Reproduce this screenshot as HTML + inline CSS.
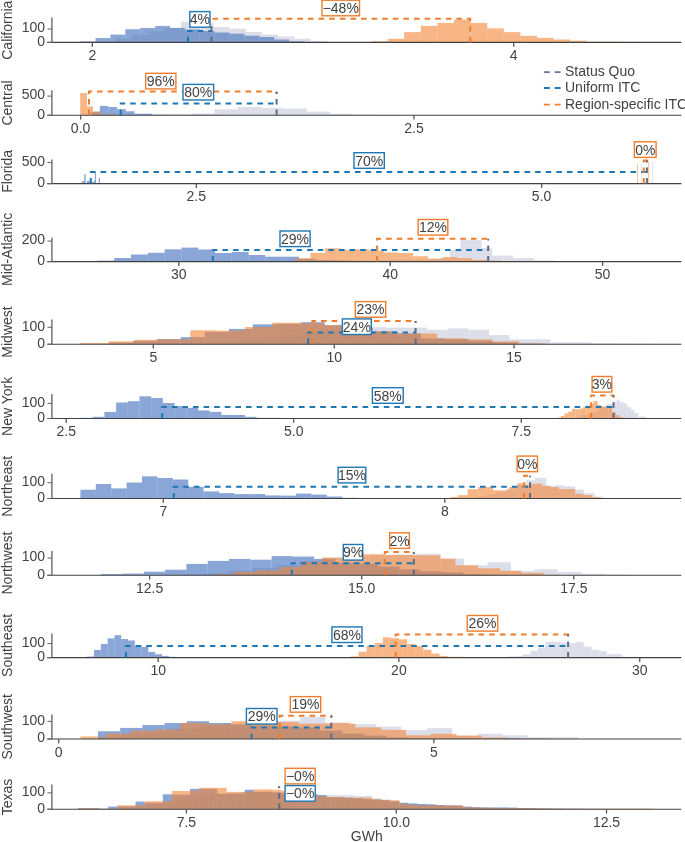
<!DOCTYPE html><html><head><meta charset="utf-8"><style>html,body{margin:0;padding:0;background:#fff;}svg{display:block;will-change:transform;}text{font-family:"Liberation Sans", sans-serif;}</style></head><body>
<svg width="685" height="842" viewBox="0 0 685 842">
<rect width="685" height="842" fill="#fff"/>
<g fill="rgb(185,192,212)" fill-opacity="0.5"><rect x="100" y="41.9" width="16.2" height="0.5"/><rect x="116.2" y="38.8" width="16.2" height="3.6"/><rect x="132.4" y="34.8" width="16.2" height="7.6"/><rect x="148.6" y="31.1" width="16.2" height="11.3"/><rect x="164.8" y="28" width="16.2" height="14.4"/><rect x="181" y="21.5" width="16.2" height="20.9"/><rect x="197.2" y="23" width="16.2" height="19.4"/><rect x="213.4" y="27" width="16.2" height="15.4"/><rect x="229.6" y="28.7" width="16.2" height="13.7"/><rect x="245.8" y="32" width="16.2" height="10.4"/><rect x="262" y="34.6" width="16.2" height="7.8"/><rect x="278.2" y="36.5" width="16.2" height="5.9"/><rect x="294.4" y="38.8" width="16.2" height="3.6"/><rect x="310.6" y="40.9" width="16.2" height="1.5"/><rect x="326.8" y="41.9" width="16.2" height="0.5"/></g>
<g fill="rgb(75,118,192)" fill-opacity="0.65"><rect x="80.6" y="41.4" width="14.9" height="1"/><rect x="95.5" y="38" width="14.9" height="4.4"/><rect x="110.4" y="34.6" width="14.9" height="7.8"/><rect x="125.3" y="29.2" width="14.9" height="13.2"/><rect x="140.2" y="28" width="14.9" height="14.4"/><rect x="155.1" y="25.9" width="14.9" height="16.5"/><rect x="170" y="27.9" width="14.9" height="14.5"/><rect x="184.9" y="29.5" width="14.9" height="12.9"/><rect x="199.8" y="31" width="14.9" height="11.4"/><rect x="214.7" y="32.5" width="14.9" height="9.9"/><rect x="229.6" y="33.7" width="14.9" height="8.7"/><rect x="244.5" y="35.7" width="14.9" height="6.7"/><rect x="259.4" y="37" width="14.9" height="5.4"/><rect x="274.3" y="39.5" width="14.9" height="2.9"/><rect x="289.2" y="41.2" width="14.9" height="1.2"/><rect x="304.1" y="41.9" width="14.9" height="0.5"/><rect x="319" y="42.1" width="14.9" height="0.3"/></g>
<g fill="rgb(243,133,55)" fill-opacity="0.6"><rect x="371" y="41.2" width="16.6" height="1.2"/><rect x="387.6" y="38.8" width="16.6" height="3.6"/><rect x="404.2" y="32.1" width="16.6" height="10.3"/><rect x="420.8" y="25.9" width="16.6" height="16.5"/><rect x="437.4" y="22.9" width="16.6" height="19.5"/><rect x="454" y="19.7" width="16.6" height="22.7"/><rect x="470.6" y="22.9" width="16.6" height="19.5"/><rect x="487.2" y="28.4" width="16.6" height="14"/><rect x="503.8" y="32.1" width="16.6" height="10.3"/><rect x="520.4" y="35.8" width="16.6" height="6.6"/><rect x="537" y="37.8" width="16.6" height="4.6"/><rect x="553.6" y="39.5" width="16.6" height="2.9"/><rect x="570.2" y="40.7" width="16.6" height="1.7"/><rect x="586.8" y="41.7" width="16.6" height="0.7"/><rect x="603.4" y="41.7" width="16.6" height="0.7"/><rect x="620" y="41.9" width="16.6" height="0.5"/></g>
<line x1="51.9" y1="17.6" x2="51.9" y2="42.4" stroke="#5f5f5f" stroke-width="1.3"/>
<line x1="47.3" y1="42.4" x2="681.3" y2="42.4" stroke="#404040" stroke-width="1.1"/>
<line x1="47.5" y1="29" x2="52" y2="29" stroke="#6a6a6a" stroke-width="1.1"/>
<text x="45" y="32.3" font-size="14" fill="#424242" text-anchor="end">100</text>
<line x1="47.5" y1="42.4" x2="52" y2="42.4" stroke="#6a6a6a" stroke-width="1.1"/>
<text x="45" y="45.7" font-size="14" fill="#424242" text-anchor="end">0</text>
<line x1="92.3" y1="42.4" x2="92.3" y2="46.7" stroke="#555" stroke-width="1.3"/>
<text x="92.3" y="59.9" font-size="14" fill="#424242" text-anchor="middle">2</text>
<line x1="513.7" y1="42.4" x2="513.7" y2="46.7" stroke="#555" stroke-width="1.3"/>
<text x="513.7" y="59.9" font-size="14" fill="#424242" text-anchor="middle">4</text>
<text transform="translate(11.5,30.2) rotate(-90)" font-size="14" fill="#424242" text-anchor="middle">California</text>
<path d="M188 42.4V30.9H211.5" fill="none" stroke="#1f77b4" stroke-width="2" stroke-dasharray="5.6 5"/>
<path d="M470.2 42.4V18.8H211.5V20.8" fill="none" stroke="#ef7d2c" stroke-width="2" stroke-dasharray="5.6 5"/>
<path d="M211.5 42.4V26" fill="none" stroke="#5f6a85" stroke-width="2" stroke-dasharray="5.6 5"/>
<rect x="189.8" y="11.6" width="20.2" height="15.6" fill="#fff" stroke="#1f77b4" stroke-width="1.4"/>
<text x="199.9" y="24.4" font-size="14" fill="#424242" text-anchor="middle">4%</text>
<rect x="322" y="0.2" width="37.5" height="15.6" fill="#fff" stroke="#ef7d2c" stroke-width="1.4"/>
<text x="340.75" y="13" font-size="14" fill="#424242" text-anchor="middle">−48%</text>
<g fill="rgb(185,192,212)" fill-opacity="0.5"><rect x="191.5" y="113.5" width="23.1" height="1.7"/><rect x="214.6" y="109.3" width="23.1" height="5.9"/><rect x="237.7" y="106.9" width="23.1" height="8.3"/><rect x="260.8" y="107.9" width="23.1" height="7.3"/><rect x="283.9" y="108.6" width="23.1" height="6.6"/><rect x="307" y="111.6" width="23.1" height="3.6"/><rect x="330.1" y="113.7" width="23.1" height="1.5"/><rect x="353.2" y="114.7" width="23.1" height="0.5"/><rect x="376.3" y="114.9" width="23.1" height="0.3"/></g>
<g fill="rgb(75,118,192)" fill-opacity="0.65"><rect x="91.1" y="111.7" width="8.7" height="3.5"/><rect x="99.8" y="105.9" width="8.7" height="9.3"/><rect x="108.5" y="107" width="8.7" height="8.2"/><rect x="117.2" y="109.2" width="8.7" height="6"/><rect x="125.9" y="111.3" width="8.7" height="3.9"/><rect x="134.6" y="113.7" width="8.7" height="1.5"/><rect x="143.3" y="113.7" width="8.7" height="1.5"/><rect x="152" y="114.6" width="8.7" height="0.6"/><rect x="160.7" y="114.6" width="8.7" height="0.6"/><rect x="169.4" y="114.7" width="8.7" height="0.5"/><rect x="178.1" y="114.7" width="8.7" height="0.5"/><rect x="186.8" y="114.8" width="8.7" height="0.4"/><rect x="195.5" y="114.8" width="8.7" height="0.4"/><rect x="204.2" y="114.9" width="8.7" height="0.3"/><rect x="212.9" y="114.9" width="8.7" height="0.3"/></g>
<g fill="rgb(243,133,55)" fill-opacity="0.6"><rect x="80.2" y="93.1" width="6.8" height="22.1"/><rect x="87" y="106.4" width="6" height="8.8"/><rect x="93" y="111.7" width="6.8" height="3.5"/><rect x="99.8" y="114.2" width="8.7" height="1"/><rect x="108.5" y="114.6" width="8.7" height="0.6"/></g>
<line x1="51.9" y1="90.2" x2="51.9" y2="115.2" stroke="#5f5f5f" stroke-width="1.3"/>
<line x1="47.3" y1="115.2" x2="681.3" y2="115.2" stroke="#404040" stroke-width="1.1"/>
<line x1="47.5" y1="96.1" x2="52" y2="96.1" stroke="#6a6a6a" stroke-width="1.1"/>
<text x="45" y="99.4" font-size="14" fill="#424242" text-anchor="end">500</text>
<line x1="47.5" y1="115.2" x2="52" y2="115.2" stroke="#6a6a6a" stroke-width="1.1"/>
<text x="45" y="118.5" font-size="14" fill="#424242" text-anchor="end">0</text>
<line x1="80.6" y1="115.2" x2="80.6" y2="119.5" stroke="#555" stroke-width="1.3"/>
<text x="80.6" y="132.7" font-size="14" fill="#424242" text-anchor="middle">0.0</text>
<line x1="414" y1="115.2" x2="414" y2="119.5" stroke="#555" stroke-width="1.3"/>
<text x="414" y="132.7" font-size="14" fill="#424242" text-anchor="middle">2.5</text>
<text transform="translate(11.5,103) rotate(-90)" font-size="14" fill="#424242" text-anchor="middle">Central</text>
<path d="M120.7 115.2V103.5H276.6" fill="none" stroke="#1f77b4" stroke-width="2" stroke-dasharray="5.6 5"/>
<path d="M89 115.2V91.4H276.6V93.4" fill="none" stroke="#ef7d2c" stroke-width="2" stroke-dasharray="5.6 5"/>
<path d="M276.6 115.2V91.4" fill="none" stroke="#5f6a85" stroke-width="2" stroke-dasharray="5.6 5"/>
<rect x="145.7" y="73.3" width="30.2" height="15.6" fill="#fff" stroke="#ef7d2c" stroke-width="1.4"/>
<text x="160.8" y="86.1" font-size="14" fill="#424242" text-anchor="middle">96%</text>
<rect x="183" y="84.4" width="30.6" height="15.6" fill="#fff" stroke="#1f77b4" stroke-width="1.4"/>
<text x="198.3" y="97.2" font-size="14" fill="#424242" text-anchor="middle">80%</text>
<g fill="rgb(185,192,212)" fill-opacity="0.5"><rect x="641" y="163.7" width="0.8" height="19.9"/><rect x="651.9" y="161.3" width="0.8" height="22.3"/></g>
<g fill="rgb(75,118,192)" fill-opacity="0.65"><rect x="80.1" y="182.7" width="2.1" height="0.9"/><rect x="82.2" y="181" width="2" height="2.6"/><rect x="84.2" y="174.1" width="1.5" height="9.5"/><rect x="87" y="180.8" width="2.8" height="2.8"/><rect x="89.8" y="181.6" width="2.1" height="2"/><rect x="91.9" y="182.2" width="2" height="1.4"/><rect x="93.9" y="180.5" width="1" height="3.1"/><rect x="94.9" y="171.8" width="1.2" height="11.8"/><rect x="98.8" y="177.9" width="1.2" height="5.7"/></g>
<g fill="rgb(243,133,55)" fill-opacity="0.6"><rect x="637" y="163.7" width="0.8" height="19.9"/><rect x="648.2" y="161.3" width="0.8" height="22.3"/></g>
<line x1="51.9" y1="159.5" x2="51.9" y2="183.6" stroke="#5f5f5f" stroke-width="1.3"/>
<line x1="47.3" y1="183.6" x2="681.3" y2="183.6" stroke="#404040" stroke-width="1.1"/>
<line x1="47.5" y1="162.5" x2="52" y2="162.5" stroke="#6a6a6a" stroke-width="1.1"/>
<text x="45" y="165.8" font-size="14" fill="#424242" text-anchor="end">500</text>
<line x1="47.5" y1="183.6" x2="52" y2="183.6" stroke="#6a6a6a" stroke-width="1.1"/>
<text x="45" y="186.9" font-size="14" fill="#424242" text-anchor="end">0</text>
<line x1="196.3" y1="183.6" x2="196.3" y2="187.9" stroke="#555" stroke-width="1.3"/>
<text x="196.3" y="201.1" font-size="14" fill="#424242" text-anchor="middle">2.5</text>
<line x1="541.6" y1="183.6" x2="541.6" y2="187.9" stroke="#555" stroke-width="1.3"/>
<text x="541.6" y="201.1" font-size="14" fill="#424242" text-anchor="middle">5.0</text>
<text transform="translate(11.5,171.4) rotate(-90)" font-size="14" fill="#424242" text-anchor="middle">Florida</text>
<path d="M90.8 183.6V172.1H646.9" fill="none" stroke="#1f77b4" stroke-width="2" stroke-dasharray="5.6 5"/>
<path d="M643.8 183.6V160.5H646.9V162.5" fill="none" stroke="#ef7d2c" stroke-width="2" stroke-dasharray="5.6 5"/>
<path d="M646.9 183.6V160.5" fill="none" stroke="#5f6a85" stroke-width="2" stroke-dasharray="5.6 5"/>
<rect x="354" y="152.7" width="30.3" height="15.6" fill="#fff" stroke="#1f77b4" stroke-width="1.4"/>
<text x="369.15" y="165.5" font-size="14" fill="#424242" text-anchor="middle">70%</text>
<rect x="634.4" y="141.8" width="21.7" height="15.6" fill="#fff" stroke="#ef7d2c" stroke-width="1.4"/>
<text x="645.25" y="154.6" font-size="14" fill="#424242" text-anchor="middle">0%</text>
<g fill="rgb(185,192,212)" fill-opacity="0.5"><rect x="366" y="260.6" width="10.5" height="1"/><rect x="376.5" y="260.1" width="10.5" height="1.5"/><rect x="387" y="259.6" width="10.5" height="2"/><rect x="397.5" y="259.6" width="10.5" height="2"/><rect x="408" y="259.6" width="10.5" height="2"/><rect x="418.5" y="259.6" width="10.5" height="2"/><rect x="429" y="258.7" width="10.5" height="2.9"/><rect x="439.5" y="258.2" width="10.5" height="3.4"/><rect x="450" y="250" width="10.5" height="11.6"/><rect x="460.5" y="240.1" width="10.5" height="21.5"/><rect x="471" y="240.1" width="10.5" height="21.5"/><rect x="481.5" y="248.1" width="10.5" height="13.5"/><rect x="492" y="255.5" width="10.5" height="6.1"/><rect x="502.5" y="255.5" width="10.5" height="6.1"/><rect x="513" y="258" width="10.5" height="3.6"/><rect x="523.5" y="258" width="10.5" height="3.6"/><rect x="534" y="260.4" width="10.5" height="1.2"/><rect x="544.5" y="260.4" width="10.5" height="1.2"/><rect x="555" y="261.1" width="10.5" height="0.5"/><rect x="565.5" y="261.1" width="10.5" height="0.5"/><rect x="576" y="261.1" width="10.5" height="0.5"/><rect x="586.5" y="261.3" width="10.5" height="0.3"/></g>
<g fill="rgb(75,118,192)" fill-opacity="0.65"><rect x="97.4" y="260.6" width="16.8" height="1"/><rect x="114.2" y="258" width="16.8" height="3.6"/><rect x="131" y="254.5" width="16.8" height="7.1"/><rect x="147.8" y="252.8" width="16.8" height="8.8"/><rect x="164.6" y="249.3" width="16.8" height="12.3"/><rect x="181.4" y="247.6" width="16.8" height="14"/><rect x="198.2" y="249.5" width="16.8" height="12.1"/><rect x="215" y="253" width="16.8" height="8.6"/><rect x="231.8" y="252" width="16.8" height="9.6"/><rect x="248.6" y="255" width="16.8" height="6.6"/><rect x="265.4" y="256.7" width="16.8" height="4.9"/><rect x="282.2" y="256.7" width="16.8" height="4.9"/><rect x="299" y="258.7" width="16.8" height="2.9"/><rect x="315.8" y="260.1" width="16.8" height="1.5"/><rect x="332.6" y="260.4" width="16.8" height="1.2"/><rect x="349.4" y="260.8" width="16.8" height="0.8"/><rect x="366.2" y="261.2" width="16.8" height="0.4"/></g>
<g fill="rgb(243,133,55)" fill-opacity="0.6"><rect x="281" y="261.1" width="14.7" height="0.5"/><rect x="295.7" y="258.2" width="14.7" height="3.4"/><rect x="310.4" y="253" width="14.7" height="8.6"/><rect x="325.1" y="248.3" width="14.7" height="13.3"/><rect x="339.8" y="250" width="14.7" height="11.6"/><rect x="354.5" y="249.3" width="14.7" height="12.3"/><rect x="369.2" y="250.8" width="14.7" height="10.8"/><rect x="383.9" y="252.5" width="14.7" height="9.1"/><rect x="398.6" y="253" width="14.7" height="8.6"/><rect x="413.3" y="256.2" width="14.7" height="5.4"/><rect x="428" y="258.7" width="14.7" height="2.9"/><rect x="442.7" y="257" width="14.7" height="4.6"/><rect x="457.4" y="258.2" width="14.7" height="3.4"/><rect x="472.1" y="259.9" width="14.7" height="1.7"/><rect x="486.8" y="260.6" width="14.7" height="1"/><rect x="501.5" y="261.1" width="14.7" height="0.5"/></g>
<line x1="51.9" y1="237.7" x2="51.9" y2="261.6" stroke="#5f5f5f" stroke-width="1.3"/>
<line x1="47.3" y1="261.6" x2="681.3" y2="261.6" stroke="#404040" stroke-width="1.1"/>
<line x1="47.5" y1="241.1" x2="52" y2="241.1" stroke="#6a6a6a" stroke-width="1.1"/>
<text x="45" y="244.4" font-size="14" fill="#424242" text-anchor="end">200</text>
<line x1="47.5" y1="261.6" x2="52" y2="261.6" stroke="#6a6a6a" stroke-width="1.1"/>
<text x="45" y="264.9" font-size="14" fill="#424242" text-anchor="end">0</text>
<line x1="178.8" y1="261.6" x2="178.8" y2="265.9" stroke="#555" stroke-width="1.3"/>
<text x="178.8" y="279.1" font-size="14" fill="#424242" text-anchor="middle">30</text>
<line x1="390.2" y1="261.6" x2="390.2" y2="265.9" stroke="#555" stroke-width="1.3"/>
<text x="390.2" y="279.1" font-size="14" fill="#424242" text-anchor="middle">40</text>
<line x1="602.6" y1="261.6" x2="602.6" y2="265.9" stroke="#555" stroke-width="1.3"/>
<text x="602.6" y="279.1" font-size="14" fill="#424242" text-anchor="middle">50</text>
<text transform="translate(11.5,249.4) rotate(-90)" font-size="14" fill="#424242" text-anchor="middle">Mid-Atlantic</text>
<path d="M212.8 261.6V250H488.2" fill="none" stroke="#1f77b4" stroke-width="2" stroke-dasharray="5.6 5"/>
<path d="M377.1 261.6V238.8H488.2V240.8" fill="none" stroke="#ef7d2c" stroke-width="2" stroke-dasharray="5.6 5"/>
<path d="M488.2 261.6V238.8" fill="none" stroke="#5f6a85" stroke-width="2" stroke-dasharray="5.6 5"/>
<rect x="280" y="231" width="30.1" height="15.6" fill="#fff" stroke="#1f77b4" stroke-width="1.4"/>
<text x="295.05" y="243.8" font-size="14" fill="#424242" text-anchor="middle">29%</text>
<rect x="418.2" y="219.5" width="29.6" height="15.6" fill="#fff" stroke="#ef7d2c" stroke-width="1.4"/>
<text x="433" y="232.3" font-size="14" fill="#424242" text-anchor="middle">12%</text>
<g fill="rgb(185,192,212)" fill-opacity="0.5"><rect x="202" y="343.2" width="20.5" height="1"/><rect x="222.5" y="342.2" width="20.5" height="2"/><rect x="243" y="339.8" width="20.5" height="4.4"/><rect x="263.5" y="337.8" width="20.5" height="6.4"/><rect x="284" y="334.8" width="20.5" height="9.4"/><rect x="304.5" y="331.8" width="20.5" height="12.4"/><rect x="325" y="329.8" width="20.5" height="14.4"/><rect x="345.5" y="328.8" width="20.5" height="15.4"/><rect x="366" y="327.2" width="20.5" height="17"/><rect x="386.5" y="327.6" width="20.5" height="16.6"/><rect x="407" y="327.6" width="20.5" height="16.6"/><rect x="427.5" y="329.8" width="20.5" height="14.4"/><rect x="448" y="328.4" width="20.5" height="15.8"/><rect x="468.5" y="329.7" width="20.5" height="14.5"/><rect x="489" y="335.1" width="20.5" height="9.1"/><rect x="509.5" y="339.3" width="20.5" height="4.9"/><rect x="530" y="339.3" width="20.5" height="4.9"/><rect x="550.5" y="342.5" width="20.5" height="1.7"/><rect x="571" y="342.5" width="20.5" height="1.7"/><rect x="591.5" y="343.4" width="20.5" height="0.8"/><rect x="612" y="343.6" width="20.5" height="0.6"/><rect x="632.5" y="343.7" width="20.5" height="0.5"/><rect x="653" y="343.8" width="20.5" height="0.4"/><rect x="673.5" y="343.9" width="20.5" height="0.3"/></g>
<g fill="rgb(75,118,192)" fill-opacity="0.65"><rect x="108.8" y="342.7" width="24" height="1.5"/><rect x="132.8" y="340.8" width="24" height="3.4"/><rect x="156.8" y="339.1" width="24" height="5.1"/><rect x="180.8" y="337.1" width="24" height="7.1"/><rect x="204.8" y="331.9" width="24" height="12.3"/><rect x="228.8" y="328.9" width="24" height="15.3"/><rect x="252.8" y="324.4" width="24" height="19.8"/><rect x="276.8" y="323.8" width="24" height="20.4"/><rect x="300.8" y="322.2" width="24" height="22"/><rect x="324.8" y="325.2" width="24" height="19"/><rect x="348.8" y="327.8" width="24" height="16.4"/><rect x="372.8" y="331.4" width="24" height="12.8"/><rect x="396.8" y="333.5" width="24" height="10.7"/><rect x="420.8" y="338.5" width="24" height="5.7"/><rect x="444.8" y="339.3" width="24" height="4.9"/><rect x="468.8" y="340.8" width="24" height="3.4"/><rect x="492.8" y="342.7" width="24" height="1.5"/><rect x="516.8" y="343.7" width="24" height="0.5"/></g>
<g fill="rgb(243,133,55)" fill-opacity="0.6"><rect x="80" y="343" width="28.5" height="1.2"/><rect x="108.5" y="341.3" width="26" height="2.9"/><rect x="134.5" y="339.8" width="22.3" height="4.4"/><rect x="156.8" y="339.3" width="33.5" height="4.9"/><rect x="190.3" y="330.2" width="24.7" height="14"/><rect x="215" y="330.6" width="30" height="13.6"/><rect x="245" y="327" width="27.2" height="17.2"/><rect x="272.2" y="322.7" width="28.6" height="21.5"/><rect x="300.8" y="323.2" width="23.5" height="21"/><rect x="324.3" y="325.2" width="17.4" height="19"/><rect x="341.7" y="328.8" width="24.3" height="15.4"/><rect x="366" y="331.4" width="25.6" height="12.8"/><rect x="391.6" y="333.5" width="27" height="10.7"/><rect x="418.6" y="333.5" width="18.6" height="10.7"/><rect x="437.2" y="338.3" width="28.6" height="5.9"/><rect x="465.8" y="339.3" width="26" height="4.9"/><rect x="491.8" y="341.3" width="27.3" height="2.9"/><rect x="519.1" y="343.5" width="27.3" height="0.7"/></g>
<line x1="51.9" y1="319.6" x2="51.9" y2="344.2" stroke="#5f5f5f" stroke-width="1.3"/>
<line x1="47.3" y1="344.2" x2="681.3" y2="344.2" stroke="#404040" stroke-width="1.1"/>
<line x1="47.5" y1="327.3" x2="52" y2="327.3" stroke="#6a6a6a" stroke-width="1.1"/>
<text x="45" y="330.6" font-size="14" fill="#424242" text-anchor="end">100</text>
<line x1="47.5" y1="344.2" x2="52" y2="344.2" stroke="#6a6a6a" stroke-width="1.1"/>
<text x="45" y="347.5" font-size="14" fill="#424242" text-anchor="end">0</text>
<line x1="153.3" y1="344.2" x2="153.3" y2="348.5" stroke="#555" stroke-width="1.3"/>
<text x="153.3" y="361.7" font-size="14" fill="#424242" text-anchor="middle">5</text>
<line x1="334.3" y1="344.2" x2="334.3" y2="348.5" stroke="#555" stroke-width="1.3"/>
<text x="334.3" y="361.7" font-size="14" fill="#424242" text-anchor="middle">10</text>
<line x1="514" y1="344.2" x2="514" y2="348.5" stroke="#555" stroke-width="1.3"/>
<text x="514" y="361.7" font-size="14" fill="#424242" text-anchor="middle">15</text>
<text transform="translate(11.5,332) rotate(-90)" font-size="14" fill="#424242" text-anchor="middle">Midwest</text>
<path d="M308.2 344.2V332.5H415.6" fill="none" stroke="#1f77b4" stroke-width="2" stroke-dasharray="5.6 5"/>
<path d="M312.4 344.2V321H415.6V323" fill="none" stroke="#ef7d2c" stroke-width="2" stroke-dasharray="5.6 5"/>
<path d="M415.6 344.2V321" fill="none" stroke="#5f6a85" stroke-width="2" stroke-dasharray="5.6 5"/>
<rect x="355.3" y="301.6" width="30.4" height="15.6" fill="#fff" stroke="#ef7d2c" stroke-width="1.4"/>
<text x="370.5" y="314.4" font-size="14" fill="#424242" text-anchor="middle">23%</text>
<rect x="342.4" y="318.9" width="28.9" height="15.6" fill="#fff" stroke="#1f77b4" stroke-width="1.4"/>
<text x="356.85" y="331.7" font-size="14" fill="#424242" text-anchor="middle">24%</text>
<g fill="rgb(185,192,212)" fill-opacity="0.5"><rect x="576.3" y="417" width="3.65" height="1.5"/><rect x="579.95" y="415.2" width="3.65" height="3.3"/><rect x="583.6" y="415.2" width="3.65" height="3.3"/><rect x="587.25" y="414.1" width="3.65" height="4.4"/><rect x="590.9" y="412.6" width="3.65" height="5.9"/><rect x="594.55" y="411.1" width="3.65" height="7.4"/><rect x="598.2" y="409.1" width="3.65" height="9.4"/><rect x="601.85" y="406.6" width="3.65" height="11.9"/><rect x="605.5" y="404.2" width="3.65" height="14.3"/><rect x="609.15" y="404.2" width="3.65" height="14.3"/><rect x="612.8" y="402.1" width="3.65" height="16.4"/><rect x="616.45" y="399.6" width="3.65" height="18.9"/><rect x="620.1" y="402.1" width="3.65" height="16.4"/><rect x="623.75" y="403.5" width="3.65" height="15"/><rect x="627.4" y="407.2" width="3.65" height="11.3"/><rect x="631.05" y="410.1" width="3.65" height="8.4"/><rect x="634.7" y="413" width="3.65" height="5.5"/><rect x="638.35" y="416.6" width="3.65" height="1.9"/><rect x="642" y="416.6" width="3.65" height="1.9"/><rect x="645.65" y="418" width="3.65" height="0.5"/></g>
<g fill="rgb(75,118,192)" fill-opacity="0.65"><rect x="81" y="417.8" width="11.7" height="0.7"/><rect x="92.7" y="416.8" width="11.7" height="1.7"/><rect x="104.4" y="411.9" width="11.7" height="6.6"/><rect x="116.1" y="402.5" width="11.7" height="16"/><rect x="127.8" y="401.2" width="11.7" height="17.3"/><rect x="139.5" y="396.3" width="11.7" height="22.2"/><rect x="151.2" y="398" width="11.7" height="20.5"/><rect x="162.9" y="403" width="11.7" height="15.5"/><rect x="174.6" y="406.2" width="11.7" height="12.3"/><rect x="186.3" y="407.9" width="11.7" height="10.6"/><rect x="198" y="410.4" width="11.7" height="8.1"/><rect x="209.7" y="411.9" width="11.7" height="6.6"/><rect x="221.4" y="414.9" width="11.7" height="3.6"/><rect x="233.1" y="414.9" width="11.7" height="3.6"/><rect x="244.8" y="416.8" width="11.7" height="1.7"/><rect x="256.5" y="417.8" width="11.7" height="0.7"/><rect x="268.2" y="417.8" width="11.7" height="0.7"/><rect x="279.9" y="418" width="11.7" height="0.5"/><rect x="291.6" y="418" width="11.7" height="0.5"/><rect x="303.3" y="418.2" width="11.7" height="0.3"/><rect x="315" y="418.2" width="11.7" height="0.3"/></g>
<g fill="rgb(243,133,55)" fill-opacity="0.6"><rect x="553.7" y="418" width="3.65" height="0.5"/><rect x="557.35" y="417.5" width="3.65" height="1"/><rect x="561" y="415.9" width="3.65" height="2.6"/><rect x="564.65" y="413.4" width="3.65" height="5.1"/><rect x="568.3" y="411.5" width="3.65" height="7"/><rect x="571.95" y="408.9" width="3.65" height="9.6"/><rect x="575.6" y="409.3" width="3.65" height="9.2"/><rect x="579.25" y="408.6" width="3.65" height="9.9"/><rect x="582.9" y="407.2" width="3.65" height="11.3"/><rect x="586.55" y="405.7" width="3.65" height="12.8"/><rect x="590.2" y="403.5" width="3.65" height="15"/><rect x="593.85" y="401" width="3.65" height="17.5"/><rect x="597.5" y="405" width="3.65" height="13.5"/><rect x="601.15" y="406.4" width="3.65" height="12.1"/><rect x="604.8" y="407.2" width="3.65" height="11.3"/><rect x="608.45" y="407.9" width="3.65" height="10.6"/><rect x="612.1" y="412.1" width="3.65" height="6.4"/><rect x="615.75" y="415.2" width="3.65" height="3.3"/><rect x="619.4" y="417" width="3.65" height="1.5"/><rect x="623.05" y="417.8" width="3.65" height="0.7"/><rect x="626.7" y="418.2" width="3.65" height="0.3"/></g>
<line x1="51.9" y1="393.9" x2="51.9" y2="418.5" stroke="#5f5f5f" stroke-width="1.3"/>
<line x1="47.3" y1="418.5" x2="681.3" y2="418.5" stroke="#404040" stroke-width="1.1"/>
<line x1="47.5" y1="403.4" x2="52" y2="403.4" stroke="#6a6a6a" stroke-width="1.1"/>
<text x="45" y="406.7" font-size="14" fill="#424242" text-anchor="end">100</text>
<line x1="47.5" y1="418.5" x2="52" y2="418.5" stroke="#6a6a6a" stroke-width="1.1"/>
<text x="45" y="421.8" font-size="14" fill="#424242" text-anchor="end">0</text>
<line x1="66.2" y1="418.5" x2="66.2" y2="422.8" stroke="#555" stroke-width="1.3"/>
<text x="66.2" y="436" font-size="14" fill="#424242" text-anchor="middle">2.5</text>
<line x1="293.7" y1="418.5" x2="293.7" y2="422.8" stroke="#555" stroke-width="1.3"/>
<text x="293.7" y="436" font-size="14" fill="#424242" text-anchor="middle">5.0</text>
<line x1="521.3" y1="418.5" x2="521.3" y2="422.8" stroke="#555" stroke-width="1.3"/>
<text x="521.3" y="436" font-size="14" fill="#424242" text-anchor="middle">7.5</text>
<text transform="translate(11.5,406.3) rotate(-90)" font-size="14" fill="#424242" text-anchor="middle">New York</text>
<path d="M162.2 418.5V406.9H613.5" fill="none" stroke="#1f77b4" stroke-width="2" stroke-dasharray="5.6 5"/>
<path d="M591.2 418.5V395.5H613.5V397.5" fill="none" stroke="#ef7d2c" stroke-width="2" stroke-dasharray="5.6 5"/>
<path d="M613.5 418.5V395.5" fill="none" stroke="#5f6a85" stroke-width="2" stroke-dasharray="5.6 5"/>
<rect x="372.4" y="387.7" width="30.8" height="15.6" fill="#fff" stroke="#1f77b4" stroke-width="1.4"/>
<text x="387.8" y="400.5" font-size="14" fill="#424242" text-anchor="middle">58%</text>
<rect x="592.1" y="376.5" width="19.7" height="15.6" fill="#fff" stroke="#ef7d2c" stroke-width="1.4"/>
<text x="601.95" y="389.3" font-size="14" fill="#424242" text-anchor="middle">3%</text>
<g fill="rgb(185,192,212)" fill-opacity="0.5"><rect x="466" y="497.5" width="10" height="1"/><rect x="476" y="496.5" width="10" height="2"/><rect x="486" y="494.1" width="10" height="4.4"/><rect x="496" y="492.1" width="10" height="6.4"/><rect x="506" y="489.1" width="10" height="9.4"/><rect x="516" y="485.1" width="10.3" height="13.4"/><rect x="526.3" y="480.2" width="8.7" height="18.3"/><rect x="535" y="478" width="11.4" height="20.5"/><rect x="546.4" y="485.8" width="9.6" height="12.7"/><rect x="556" y="485.3" width="9" height="13.2"/><rect x="565" y="486.4" width="10.3" height="12.1"/><rect x="575.3" y="489.7" width="8.7" height="8.8"/><rect x="584" y="493.2" width="10.6" height="5.3"/><rect x="594.6" y="496.7" width="8.7" height="1.8"/><rect x="603.3" y="498" width="5.7" height="0.5"/></g>
<g fill="rgb(75,118,192)" fill-opacity="0.65"><rect x="80.4" y="489.7" width="15.4" height="8.8"/><rect x="95.8" y="484" width="15.4" height="14.5"/><rect x="111.2" y="488.4" width="15.4" height="10.1"/><rect x="126.6" y="482.5" width="15.4" height="16"/><rect x="142" y="476.3" width="15.4" height="22.2"/><rect x="157.4" y="478" width="15.4" height="20.5"/><rect x="172.8" y="479.5" width="15.4" height="19"/><rect x="188.2" y="486.9" width="15.4" height="11.6"/><rect x="203.6" y="491.4" width="15.4" height="7.1"/><rect x="219" y="493.1" width="15.4" height="5.4"/><rect x="234.4" y="494.1" width="15.4" height="4.4"/><rect x="249.8" y="494.1" width="15.4" height="4.4"/><rect x="265.2" y="495.4" width="15.4" height="3.1"/><rect x="280.6" y="495.6" width="15.4" height="2.9"/><rect x="296" y="493.6" width="15.4" height="4.9"/><rect x="311.4" y="494.6" width="15.4" height="3.9"/><rect x="326.8" y="496.5" width="15.4" height="2"/><rect x="342.2" y="497.8" width="15.4" height="0.7"/><rect x="357.6" y="498" width="15.4" height="0.5"/><rect x="373" y="498" width="15.4" height="0.5"/></g>
<g fill="rgb(243,133,55)" fill-opacity="0.6"><rect x="450.7" y="497" width="7.3" height="1.5"/><rect x="458" y="495.2" width="9.6" height="3.3"/><rect x="467.6" y="489.3" width="10.8" height="9.2"/><rect x="478.4" y="487" width="14.6" height="11.5"/><rect x="493" y="490.3" width="15.8" height="8.2"/><rect x="508.8" y="487.1" width="8.7" height="11.4"/><rect x="517.5" y="483.2" width="7.9" height="15.3"/><rect x="525.4" y="485" width="7" height="13.5"/><rect x="532.4" y="483.7" width="9.6" height="14.8"/><rect x="542" y="485.8" width="8" height="12.7"/><rect x="550" y="487.1" width="8.7" height="11.4"/><rect x="558.7" y="489" width="16.6" height="9.5"/><rect x="575.3" y="493.7" width="7.9" height="4.8"/><rect x="583.2" y="495.1" width="8.8" height="3.4"/><rect x="592" y="497.1" width="8" height="1.4"/><rect x="600" y="498" width="5" height="0.5"/></g>
<line x1="51.9" y1="473.7" x2="51.9" y2="498.5" stroke="#5f5f5f" stroke-width="1.3"/>
<line x1="47.3" y1="498.5" x2="681.3" y2="498.5" stroke="#404040" stroke-width="1.1"/>
<line x1="47.5" y1="482.7" x2="52" y2="482.7" stroke="#6a6a6a" stroke-width="1.1"/>
<text x="45" y="486" font-size="14" fill="#424242" text-anchor="end">100</text>
<line x1="47.5" y1="498.5" x2="52" y2="498.5" stroke="#6a6a6a" stroke-width="1.1"/>
<text x="45" y="501.8" font-size="14" fill="#424242" text-anchor="end">0</text>
<line x1="163.3" y1="498.5" x2="163.3" y2="502.8" stroke="#555" stroke-width="1.3"/>
<text x="163.3" y="516" font-size="14" fill="#424242" text-anchor="middle">7</text>
<line x1="444.8" y1="498.5" x2="444.8" y2="502.8" stroke="#555" stroke-width="1.3"/>
<text x="444.8" y="516" font-size="14" fill="#424242" text-anchor="middle">8</text>
<text transform="translate(11.5,486.3) rotate(-90)" font-size="14" fill="#424242" text-anchor="middle">Northeast</text>
<path d="M173.7 498.5V486.8H530.1" fill="none" stroke="#1f77b4" stroke-width="2" stroke-dasharray="5.6 5"/>
<path d="M524.2 498.5V475.7H530.1V477.7" fill="none" stroke="#ef7d2c" stroke-width="2" stroke-dasharray="5.6 5"/>
<path d="M530.1 498.5V475.7" fill="none" stroke="#5f6a85" stroke-width="2" stroke-dasharray="5.6 5"/>
<rect x="338.1" y="467.3" width="27.7" height="15.6" fill="#fff" stroke="#1f77b4" stroke-width="1.4"/>
<text x="351.95" y="480.1" font-size="14" fill="#424242" text-anchor="middle">15%</text>
<rect x="517.1" y="456.1" width="20.4" height="15.6" fill="#fff" stroke="#ef7d2c" stroke-width="1.4"/>
<text x="527.3" y="468.9" font-size="14" fill="#424242" text-anchor="middle">0%</text>
<g fill="rgb(185,192,212)" fill-opacity="0.5"><rect x="182" y="574.3" width="23.5" height="1"/><rect x="205.5" y="573.3" width="23.5" height="2"/><rect x="229" y="570.9" width="23.5" height="4.4"/><rect x="252.5" y="567.9" width="23.5" height="7.4"/><rect x="276" y="564.9" width="23.5" height="10.4"/><rect x="299.5" y="560.9" width="23.5" height="14.4"/><rect x="323" y="557.9" width="23.5" height="17.4"/><rect x="346.5" y="555.9" width="23.5" height="19.4"/><rect x="370" y="554.9" width="23.5" height="20.4"/><rect x="393.5" y="554.4" width="23.5" height="20.9"/><rect x="417" y="553.9" width="23.5" height="21.4"/><rect x="440.5" y="558.7" width="23.5" height="16.6"/><rect x="464" y="565.3" width="23.5" height="10"/><rect x="487.5" y="562.3" width="23.5" height="13"/><rect x="511" y="570.9" width="23.5" height="4.4"/><rect x="534.5" y="569.2" width="23.5" height="6.1"/><rect x="558" y="571.9" width="23.5" height="3.4"/><rect x="581.5" y="573.8" width="23.5" height="1.5"/><rect x="605" y="574.8" width="23.5" height="0.5"/></g>
<g fill="rgb(75,118,192)" fill-opacity="0.65"><rect x="101.2" y="574.1" width="21.3" height="1.2"/><rect x="122.5" y="573.6" width="21.3" height="1.7"/><rect x="143.8" y="571.7" width="21.3" height="3.6"/><rect x="165.1" y="569.7" width="21.3" height="5.6"/><rect x="186.4" y="563.9" width="21.3" height="11.4"/><rect x="207.7" y="560.9" width="21.3" height="14.4"/><rect x="229" y="558.9" width="21.3" height="16.4"/><rect x="250.3" y="559.7" width="21.3" height="15.6"/><rect x="271.6" y="556.1" width="21.3" height="19.2"/><rect x="292.9" y="556.6" width="21.3" height="18.7"/><rect x="314.2" y="558.9" width="21.3" height="16.4"/><rect x="335.5" y="562.9" width="21.3" height="12.4"/><rect x="356.8" y="563.9" width="21.3" height="11.4"/><rect x="378.1" y="566.7" width="21.3" height="8.6"/><rect x="399.4" y="569.4" width="21.3" height="5.9"/><rect x="420.7" y="571.4" width="21.3" height="3.9"/><rect x="442" y="572.4" width="21.3" height="2.9"/><rect x="463.3" y="574.3" width="21.3" height="1"/><rect x="484.6" y="574.8" width="21.3" height="0.5"/></g>
<g fill="rgb(243,133,55)" fill-opacity="0.6"><rect x="212.8" y="574.3" width="21.2" height="1"/><rect x="234" y="571.9" width="21.5" height="3.4"/><rect x="255.5" y="570.4" width="24.3" height="4.9"/><rect x="279.8" y="567" width="21.1" height="8.3"/><rect x="300.9" y="561.8" width="21.1" height="13.5"/><rect x="322" y="557.5" width="22.3" height="17.8"/><rect x="344.3" y="553.9" width="21.1" height="21.4"/><rect x="365.4" y="554.3" width="21.1" height="21"/><rect x="386.5" y="555" width="27.3" height="20.3"/><rect x="413.8" y="555.3" width="26.6" height="20"/><rect x="440.4" y="558.7" width="15" height="16.6"/><rect x="455.4" y="565.3" width="22.5" height="10"/><rect x="477.9" y="568.3" width="22.4" height="7"/><rect x="500.3" y="570.7" width="21" height="4.6"/><rect x="521.3" y="572.8" width="22.4" height="2.5"/><rect x="543.7" y="574.8" width="16.3" height="0.5"/></g>
<line x1="51.9" y1="550.9" x2="51.9" y2="575.3" stroke="#5f5f5f" stroke-width="1.3"/>
<line x1="47.3" y1="575.3" x2="681.3" y2="575.3" stroke="#404040" stroke-width="1.1"/>
<line x1="47.5" y1="558" x2="52" y2="558" stroke="#6a6a6a" stroke-width="1.1"/>
<text x="45" y="561.3" font-size="14" fill="#424242" text-anchor="end">100</text>
<line x1="47.5" y1="575.3" x2="52" y2="575.3" stroke="#6a6a6a" stroke-width="1.1"/>
<text x="45" y="578.6" font-size="14" fill="#424242" text-anchor="end">0</text>
<line x1="149.6" y1="575.3" x2="149.6" y2="579.6" stroke="#555" stroke-width="1.3"/>
<text x="149.6" y="592.8" font-size="14" fill="#424242" text-anchor="middle">12.5</text>
<line x1="361.7" y1="575.3" x2="361.7" y2="579.6" stroke="#555" stroke-width="1.3"/>
<text x="361.7" y="592.8" font-size="14" fill="#424242" text-anchor="middle">15.0</text>
<line x1="573.8" y1="575.3" x2="573.8" y2="579.6" stroke="#555" stroke-width="1.3"/>
<text x="573.8" y="592.8" font-size="14" fill="#424242" text-anchor="middle">17.5</text>
<text transform="translate(11.5,563.1) rotate(-90)" font-size="14" fill="#424242" text-anchor="middle">Northwest</text>
<path d="M291.7 575.3V563.2H413.8" fill="none" stroke="#1f77b4" stroke-width="2" stroke-dasharray="5.6 5"/>
<path d="M384.8 575.3V552H413.8V554" fill="none" stroke="#ef7d2c" stroke-width="2" stroke-dasharray="5.6 5"/>
<path d="M413.8 575.3V552" fill="none" stroke="#5f6a85" stroke-width="2" stroke-dasharray="5.6 5"/>
<rect x="343.3" y="544.5" width="19.4" height="15.6" fill="#fff" stroke="#1f77b4" stroke-width="1.4"/>
<text x="353" y="557.3" font-size="14" fill="#424242" text-anchor="middle">9%</text>
<rect x="389.7" y="532.8" width="19.7" height="15.6" fill="#fff" stroke="#ef7d2c" stroke-width="1.4"/>
<text x="399.55" y="545.6" font-size="14" fill="#424242" text-anchor="middle">2%</text>
<g fill="rgb(185,192,212)" fill-opacity="0.5"><rect x="507.2" y="656.6" width="7.65" height="1"/><rect x="514.85" y="656.2" width="7.65" height="1.4"/><rect x="522.5" y="654.3" width="7.65" height="3.3"/><rect x="530.15" y="650.7" width="7.65" height="6.9"/><rect x="537.8" y="647.6" width="7.65" height="10"/><rect x="545.45" y="641.9" width="7.65" height="15.7"/><rect x="553.1" y="641.9" width="7.65" height="15.7"/><rect x="560.75" y="642.5" width="7.65" height="15.1"/><rect x="568.4" y="643.1" width="7.65" height="14.5"/><rect x="576.05" y="641.9" width="7.65" height="15.7"/><rect x="583.7" y="646.6" width="7.65" height="11"/><rect x="591.35" y="649.6" width="7.65" height="8"/><rect x="599" y="651.1" width="7.65" height="6.5"/><rect x="606.65" y="654.1" width="7.65" height="3.5"/><rect x="614.3" y="654.1" width="7.65" height="3.5"/><rect x="621.95" y="656.8" width="7.65" height="0.8"/><rect x="629.6" y="656.8" width="7.65" height="0.8"/><rect x="637.25" y="657.2" width="7.65" height="0.4"/><rect x="644.9" y="657.2" width="7.65" height="0.4"/></g>
<g fill="rgb(75,118,192)" fill-opacity="0.65"><rect x="80.4" y="657.1" width="6.8" height="0.5"/><rect x="87.2" y="656.5" width="6.8" height="1.1"/><rect x="94" y="650" width="6.8" height="7.6"/><rect x="100.8" y="644.1" width="6.8" height="13.5"/><rect x="107.6" y="638.4" width="6.8" height="19.2"/><rect x="114.4" y="635.2" width="6.8" height="22.4"/><rect x="121.2" y="639" width="6.8" height="18.6"/><rect x="128" y="640.5" width="6.8" height="17.1"/><rect x="134.8" y="646.2" width="6.8" height="11.4"/><rect x="141.6" y="647" width="6.8" height="10.6"/><rect x="148.4" y="651.9" width="6.8" height="5.7"/><rect x="155.2" y="654.2" width="6.8" height="3.4"/><rect x="162" y="655.9" width="6.8" height="1.7"/><rect x="168.8" y="656.8" width="6.8" height="0.8"/><rect x="175.6" y="657.1" width="6.8" height="0.5"/><rect x="182.4" y="657.1" width="6.8" height="0.5"/><rect x="189.2" y="657.1" width="6.8" height="0.5"/><rect x="196" y="657.3" width="6.8" height="0.3"/><rect x="202.8" y="657.3" width="6.8" height="0.3"/><rect x="209.6" y="657.3" width="6.8" height="0.3"/></g>
<g fill="rgb(243,133,55)" fill-opacity="0.6"><rect x="342.3" y="657.1" width="8.1" height="0.5"/><rect x="350.4" y="656.4" width="8.1" height="1.2"/><rect x="358.5" y="651.7" width="8.1" height="5.9"/><rect x="366.6" y="646" width="8.1" height="11.6"/><rect x="374.7" y="643.1" width="8.1" height="14.5"/><rect x="382.8" y="637.3" width="8.1" height="20.3"/><rect x="390.9" y="638.1" width="8.1" height="19.5"/><rect x="399" y="639.3" width="8.1" height="18.3"/><rect x="407.1" y="644" width="8.1" height="13.6"/><rect x="415.2" y="646" width="8.1" height="11.6"/><rect x="423.3" y="649.8" width="8.1" height="7.8"/><rect x="431.4" y="653.5" width="8.1" height="4.1"/><rect x="439.5" y="655.9" width="8.1" height="1.7"/><rect x="447.6" y="656.8" width="8.1" height="0.8"/><rect x="455.7" y="656.8" width="8.1" height="0.8"/><rect x="463.8" y="657.2" width="8.1" height="0.4"/><rect x="471.9" y="657.2" width="8.1" height="0.4"/></g>
<line x1="51.9" y1="633.4" x2="51.9" y2="657.6" stroke="#5f5f5f" stroke-width="1.3"/>
<line x1="47.3" y1="657.6" x2="681.3" y2="657.6" stroke="#404040" stroke-width="1.1"/>
<line x1="47.5" y1="643.6" x2="52" y2="643.6" stroke="#6a6a6a" stroke-width="1.1"/>
<text x="45" y="646.9" font-size="14" fill="#424242" text-anchor="end">100</text>
<line x1="47.5" y1="657.6" x2="52" y2="657.6" stroke="#6a6a6a" stroke-width="1.1"/>
<text x="45" y="660.9" font-size="14" fill="#424242" text-anchor="end">0</text>
<line x1="158.2" y1="657.6" x2="158.2" y2="661.9" stroke="#555" stroke-width="1.3"/>
<text x="158.2" y="675.1" font-size="14" fill="#424242" text-anchor="middle">10</text>
<line x1="398.9" y1="657.6" x2="398.9" y2="661.9" stroke="#555" stroke-width="1.3"/>
<text x="398.9" y="675.1" font-size="14" fill="#424242" text-anchor="middle">20</text>
<line x1="639.7" y1="657.6" x2="639.7" y2="661.9" stroke="#555" stroke-width="1.3"/>
<text x="639.7" y="675.1" font-size="14" fill="#424242" text-anchor="middle">30</text>
<text transform="translate(11.5,645.4) rotate(-90)" font-size="14" fill="#424242" text-anchor="middle">Southeast</text>
<path d="M126 657.6V646H568.1" fill="none" stroke="#1f77b4" stroke-width="2" stroke-dasharray="5.6 5"/>
<path d="M395.7 657.6V634.5H568.1V636.5" fill="none" stroke="#ef7d2c" stroke-width="2" stroke-dasharray="5.6 5"/>
<path d="M568.1 657.6V634.5" fill="none" stroke="#5f6a85" stroke-width="2" stroke-dasharray="5.6 5"/>
<rect x="331.9" y="626.9" width="30.1" height="15.6" fill="#fff" stroke="#1f77b4" stroke-width="1.4"/>
<text x="346.95" y="639.7" font-size="14" fill="#424242" text-anchor="middle">68%</text>
<rect x="467.3" y="615.5" width="30.4" height="15.6" fill="#fff" stroke="#ef7d2c" stroke-width="1.4"/>
<text x="482.5" y="628.3" font-size="14" fill="#424242" text-anchor="middle">26%</text>
<g fill="rgb(185,192,212)" fill-opacity="0.5"><rect x="97.8" y="737" width="25.3" height="2"/><rect x="123.1" y="734.6" width="25.3" height="4.4"/><rect x="148.4" y="731.6" width="25.3" height="7.4"/><rect x="173.7" y="728.6" width="25.3" height="10.4"/><rect x="199" y="725.6" width="25.3" height="13.4"/><rect x="224.3" y="723.6" width="25.3" height="15.4"/><rect x="249.6" y="721.6" width="25.3" height="17.4"/><rect x="274.9" y="720.6" width="25.3" height="18.4"/><rect x="300.2" y="717" width="25.3" height="22"/><rect x="325.5" y="722.6" width="25.3" height="16.4"/><rect x="350.8" y="724.2" width="25.3" height="14.8"/><rect x="376.1" y="726.7" width="25.3" height="12.3"/><rect x="401.4" y="730.2" width="25.3" height="8.8"/><rect x="426.7" y="728.1" width="25.3" height="10.9"/><rect x="452" y="735.6" width="25.3" height="3.4"/><rect x="477.3" y="733.8" width="25.3" height="5.2"/><rect x="502.6" y="735.3" width="25.3" height="3.7"/><rect x="527.9" y="737.2" width="25.3" height="1.8"/><rect x="553.2" y="737.2" width="25.3" height="1.8"/></g>
<g fill="rgb(75,118,192)" fill-opacity="0.65"><rect x="98" y="731.2" width="22.2" height="7.8"/><rect x="120.2" y="727.9" width="22.2" height="11.1"/><rect x="142.4" y="725" width="22.2" height="14"/><rect x="164.6" y="723" width="22.2" height="16"/><rect x="186.8" y="721.2" width="22.2" height="17.8"/><rect x="209" y="723" width="22.2" height="16"/><rect x="231.2" y="724.6" width="22.2" height="14.4"/><rect x="253.4" y="725.6" width="22.2" height="13.4"/><rect x="275.6" y="726.6" width="22.2" height="12.4"/><rect x="297.8" y="727.6" width="22.2" height="11.4"/><rect x="320" y="730.6" width="22.2" height="8.4"/><rect x="342.2" y="733.6" width="22.2" height="5.4"/><rect x="364.4" y="735.6" width="22.2" height="3.4"/><rect x="386.6" y="737.5" width="22.2" height="1.5"/><rect x="408.8" y="738" width="22.2" height="1"/><rect x="431" y="738.2" width="22.2" height="0.8"/><rect x="453.2" y="738.2" width="22.2" height="0.8"/><rect x="475.4" y="738.5" width="22.2" height="0.5"/><rect x="497.6" y="738" width="22.2" height="1"/><rect x="519.8" y="738.7" width="22.2" height="0.3"/></g>
<g fill="rgb(243,133,55)" fill-opacity="0.6"><rect x="80.4" y="736.4" width="17.6" height="2.6"/><rect x="98" y="737.3" width="8" height="1.7"/><rect x="106" y="733.6" width="24.8" height="5.4"/><rect x="130.8" y="730.6" width="24.8" height="8.4"/><rect x="155.6" y="729.4" width="24.8" height="9.6"/><rect x="180.4" y="723" width="25.6" height="16"/><rect x="206" y="724.2" width="25.3" height="14.8"/><rect x="231.3" y="721.2" width="16" height="17.8"/><rect x="247.4" y="722" width="24.8" height="17"/><rect x="272.2" y="722" width="26" height="17"/><rect x="298.3" y="723.6" width="32" height="15.4"/><rect x="330.5" y="723" width="17.4" height="16"/><rect x="347.9" y="723.7" width="7.4" height="15.3"/><rect x="355.3" y="727.4" width="26" height="11.6"/><rect x="381.4" y="729.9" width="24.6" height="9.1"/><rect x="406" y="735.3" width="25" height="3.7"/><rect x="431" y="733.8" width="25.4" height="5.2"/><rect x="456.4" y="735.6" width="25.4" height="3.4"/><rect x="481.8" y="737.5" width="25.5" height="1.5"/><rect x="507.3" y="738.5" width="40" height="0.5"/></g>
<line x1="51.9" y1="714.6" x2="51.9" y2="739" stroke="#5f5f5f" stroke-width="1.3"/>
<line x1="47.3" y1="739" x2="681.3" y2="739" stroke="#404040" stroke-width="1.1"/>
<line x1="47.5" y1="721.4" x2="52" y2="721.4" stroke="#6a6a6a" stroke-width="1.1"/>
<text x="45" y="724.7" font-size="14" fill="#424242" text-anchor="end">100</text>
<line x1="47.5" y1="739" x2="52" y2="739" stroke="#6a6a6a" stroke-width="1.1"/>
<text x="45" y="742.3" font-size="14" fill="#424242" text-anchor="end">0</text>
<line x1="58.7" y1="739" x2="58.7" y2="743.3" stroke="#555" stroke-width="1.3"/>
<text x="58.7" y="756.5" font-size="14" fill="#424242" text-anchor="middle">0</text>
<line x1="433.9" y1="739" x2="433.9" y2="743.3" stroke="#555" stroke-width="1.3"/>
<text x="433.9" y="756.5" font-size="14" fill="#424242" text-anchor="middle">5</text>
<text transform="translate(11.5,726.8) rotate(-90)" font-size="14" fill="#424242" text-anchor="middle">Southwest</text>
<path d="M251.6 739V727.5H331.3" fill="none" stroke="#1f77b4" stroke-width="2" stroke-dasharray="5.6 5"/>
<path d="M279.7 739V715.8H331.3V717.8" fill="none" stroke="#ef7d2c" stroke-width="2" stroke-dasharray="5.6 5"/>
<path d="M331.3 739V715.8" fill="none" stroke="#5f6a85" stroke-width="2" stroke-dasharray="5.6 5"/>
<rect x="246.4" y="708.5" width="30.6" height="15.6" fill="#fff" stroke="#1f77b4" stroke-width="1.4"/>
<text x="261.7" y="721.3" font-size="14" fill="#424242" text-anchor="middle">29%</text>
<rect x="290.3" y="696.6" width="30.4" height="15.6" fill="#fff" stroke="#ef7d2c" stroke-width="1.4"/>
<text x="305.5" y="709.4" font-size="14" fill="#424242" text-anchor="middle">19%</text>
<g fill="rgb(185,192,212)" fill-opacity="0.5"><rect x="117.3" y="808.7" width="9.1" height="0.5"/><rect x="126.4" y="808.2" width="9.1" height="1"/><rect x="135.5" y="807.2" width="9.1" height="2"/><rect x="144.6" y="805.8" width="9.1" height="3.4"/><rect x="153.7" y="804.3" width="9.1" height="4.9"/><rect x="162.8" y="802.8" width="9.1" height="6.4"/><rect x="171.9" y="800.8" width="9.1" height="8.4"/><rect x="181" y="798.8" width="9.1" height="10.4"/><rect x="190.1" y="796.8" width="9.1" height="12.4"/><rect x="199.2" y="795.3" width="9.1" height="13.9"/><rect x="208.3" y="794.3" width="9.1" height="14.9"/><rect x="217.4" y="793.3" width="9.1" height="15.9"/><rect x="226.5" y="792.8" width="9.1" height="16.4"/><rect x="235.6" y="792.3" width="9.1" height="16.9"/><rect x="244.7" y="791.8" width="9.1" height="17.4"/><rect x="253.8" y="791.8" width="9.1" height="17.4"/><rect x="262.9" y="791.8" width="9.1" height="17.4"/><rect x="272" y="792.3" width="9.1" height="16.9"/><rect x="281.1" y="792.8" width="9.1" height="16.4"/><rect x="290.2" y="793.3" width="9.1" height="15.9"/><rect x="299.3" y="793.8" width="9.1" height="15.4"/><rect x="308.4" y="794.3" width="9.1" height="14.9"/><rect x="317.5" y="794.8" width="9.1" height="14.4"/><rect x="326.6" y="795" width="9.1" height="14.2"/><rect x="335.7" y="795.2" width="9.1" height="14"/><rect x="344.8" y="795.2" width="9.1" height="14"/><rect x="353.9" y="795.9" width="9.1" height="13.3"/><rect x="363" y="795.9" width="9.1" height="13.3"/><rect x="372.1" y="798.3" width="9.1" height="10.9"/><rect x="381.2" y="799.8" width="9.1" height="9.4"/><rect x="390.3" y="800.8" width="9.1" height="8.4"/><rect x="399.4" y="802.3" width="9.1" height="6.9"/><rect x="408.5" y="803.3" width="9.1" height="5.9"/><rect x="417.6" y="804.3" width="9.1" height="4.9"/><rect x="426.7" y="804.8" width="9.1" height="4.4"/><rect x="435.8" y="805.3" width="9.1" height="3.9"/><rect x="444.9" y="805.8" width="9.1" height="3.4"/><rect x="454" y="806.3" width="9.1" height="2.9"/><rect x="463.1" y="807.2" width="9.1" height="2"/><rect x="472.2" y="807.7" width="9.1" height="1.5"/><rect x="481.3" y="808" width="9.1" height="1.2"/><rect x="490.4" y="808.2" width="9.1" height="1"/><rect x="499.5" y="808.4" width="9.1" height="0.8"/><rect x="508.6" y="808.6" width="9.1" height="0.6"/><rect x="517.7" y="808.7" width="9.1" height="0.5"/><rect x="526.8" y="808.8" width="9.1" height="0.4"/><rect x="535.9" y="808.9" width="9.1" height="0.3"/><rect x="545" y="808.9" width="9.1" height="0.3"/><rect x="554.1" y="808.9" width="9.1" height="0.3"/></g>
<g fill="rgb(75,118,192)" fill-opacity="0.65"><rect x="78" y="808.3" width="21.1" height="0.9"/><rect x="99.1" y="808.7" width="9.1" height="0.5"/><rect x="108.2" y="806.6" width="9.1" height="2.6"/><rect x="117.3" y="806.3" width="9.1" height="2.9"/><rect x="126.4" y="806.3" width="9.1" height="2.9"/><rect x="135.5" y="801.6" width="9.1" height="7.6"/><rect x="144.6" y="802.8" width="9.1" height="6.4"/><rect x="153.7" y="802.8" width="9.1" height="6.4"/><rect x="162.8" y="794.3" width="9.1" height="14.9"/><rect x="171.9" y="794.6" width="9.1" height="14.6"/><rect x="181" y="794.6" width="9.1" height="14.6"/><rect x="190.1" y="788.8" width="9.1" height="20.4"/><rect x="199.2" y="788.8" width="9.1" height="20.4"/><rect x="208.3" y="788.8" width="9.1" height="20.4"/><rect x="217.4" y="793.9" width="9.1" height="15.3"/><rect x="226.5" y="793.8" width="9.1" height="15.4"/><rect x="235.6" y="793.8" width="9.1" height="15.4"/><rect x="244.7" y="789.7" width="9.1" height="19.5"/><rect x="253.8" y="791.8" width="9.1" height="17.4"/><rect x="262.9" y="791.8" width="9.1" height="17.4"/><rect x="272" y="792.3" width="9.1" height="16.9"/><rect x="281.1" y="792.8" width="9.1" height="16.4"/><rect x="290.2" y="793.3" width="9.1" height="15.9"/><rect x="299.3" y="793.8" width="9.1" height="15.4"/><rect x="308.4" y="794.3" width="9.1" height="14.9"/><rect x="317.5" y="795.2" width="9.1" height="14"/><rect x="326.6" y="797.3" width="9.1" height="11.9"/><rect x="335.7" y="797.3" width="9.1" height="11.9"/><rect x="344.8" y="797.8" width="9.1" height="11.4"/><rect x="353.9" y="798.3" width="9.1" height="10.9"/><rect x="363" y="799.3" width="9.1" height="9.9"/><rect x="372.1" y="799.6" width="9.1" height="9.6"/><rect x="381.2" y="800.3" width="9.1" height="8.9"/><rect x="390.3" y="801.4" width="9.1" height="7.8"/><rect x="399.4" y="803.1" width="9.1" height="6.1"/><rect x="408.5" y="803.6" width="9.1" height="5.6"/><rect x="417.6" y="804" width="9.1" height="5.2"/><rect x="426.7" y="804.3" width="9.1" height="4.9"/><rect x="435.8" y="805" width="9.1" height="4.2"/><rect x="444.9" y="805.3" width="9.1" height="3.9"/><rect x="454" y="805.5" width="9.1" height="3.7"/><rect x="463.1" y="806.6" width="9.1" height="2.6"/><rect x="472.2" y="807.2" width="9.1" height="2"/><rect x="481.3" y="807.4" width="9.1" height="1.8"/><rect x="490.4" y="807.4" width="9.1" height="1.8"/><rect x="499.5" y="807.4" width="9.1" height="1.8"/><rect x="508.6" y="807.6" width="9.1" height="1.6"/><rect x="517.7" y="808" width="9.1" height="1.2"/><rect x="526.8" y="808.2" width="9.1" height="1"/><rect x="535.9" y="808.4" width="9.1" height="0.8"/><rect x="545" y="808.5" width="9.1" height="0.7"/><rect x="554.1" y="808.6" width="9.1" height="0.6"/><rect x="563.2" y="808.7" width="9.1" height="0.5"/><rect x="572.3" y="808.7" width="9.1" height="0.5"/><rect x="581.4" y="808.8" width="9.1" height="0.4"/><rect x="590.5" y="808.8" width="9.1" height="0.4"/><rect x="599.6" y="808.9" width="9.1" height="0.3"/><rect x="608.7" y="808.9" width="9.1" height="0.3"/><rect x="617.8" y="808.9" width="9.1" height="0.3"/><rect x="626.9" y="808.9" width="9.1" height="0.3"/><rect x="636" y="808.9" width="9.1" height="0.3"/></g>
<g fill="rgb(243,133,55)" fill-opacity="0.6"><rect x="78" y="808.3" width="21.1" height="0.9"/><rect x="99.1" y="808.9" width="9.1" height="0.3"/><rect x="108.2" y="808.7" width="9.1" height="0.5"/><rect x="117.3" y="805.3" width="9.1" height="3.9"/><rect x="126.4" y="805.3" width="9.1" height="3.9"/><rect x="135.5" y="805.1" width="9.1" height="4.1"/><rect x="144.6" y="801.2" width="9.1" height="8"/><rect x="153.7" y="801.2" width="9.1" height="8"/><rect x="162.8" y="801.2" width="9.1" height="8"/><rect x="171.9" y="791" width="9.1" height="18.2"/><rect x="181" y="791" width="9.1" height="18.2"/><rect x="190.1" y="790.7" width="9.1" height="18.5"/><rect x="199.2" y="787.8" width="9.1" height="21.4"/><rect x="208.3" y="787.8" width="9.1" height="21.4"/><rect x="217.4" y="787.8" width="9.1" height="21.4"/><rect x="226.5" y="791.9" width="9.1" height="17.3"/><rect x="235.6" y="791.9" width="9.1" height="17.3"/><rect x="244.7" y="791.8" width="9.1" height="17.4"/><rect x="253.8" y="789.4" width="9.1" height="19.8"/><rect x="262.9" y="789.4" width="9.1" height="19.8"/><rect x="272" y="789.7" width="9.1" height="19.5"/><rect x="281.1" y="790.7" width="9.1" height="18.5"/><rect x="290.2" y="792.8" width="9.1" height="16.4"/><rect x="299.3" y="793.8" width="9.1" height="15.4"/><rect x="308.4" y="795.3" width="9.1" height="13.9"/><rect x="317.5" y="796.3" width="9.1" height="12.9"/><rect x="326.6" y="796.9" width="9.1" height="12.3"/><rect x="335.7" y="796.9" width="9.1" height="12.3"/><rect x="344.8" y="797.6" width="9.1" height="11.6"/><rect x="353.9" y="797.6" width="9.1" height="11.6"/><rect x="363" y="797.6" width="9.1" height="11.6"/><rect x="372.1" y="799.3" width="9.1" height="9.9"/><rect x="381.2" y="799.8" width="9.1" height="9.4"/><rect x="390.3" y="800.3" width="9.1" height="8.9"/><rect x="399.4" y="803.8" width="9.1" height="5.4"/><rect x="408.5" y="804.8" width="9.1" height="4.4"/><rect x="417.6" y="805.3" width="9.1" height="3.9"/><rect x="426.7" y="805.5" width="9.1" height="3.7"/><rect x="435.8" y="805.5" width="9.1" height="3.7"/><rect x="444.9" y="805.5" width="9.1" height="3.7"/><rect x="454" y="805.6" width="9.1" height="3.6"/><rect x="463.1" y="807.4" width="9.1" height="1.8"/><rect x="472.2" y="807.4" width="9.1" height="1.8"/><rect x="481.3" y="807.7" width="9.1" height="1.5"/><rect x="490.4" y="808" width="9.1" height="1.2"/><rect x="499.5" y="808" width="9.1" height="1.2"/><rect x="508.6" y="808" width="9.1" height="1.2"/><rect x="517.7" y="808" width="9.1" height="1.2"/><rect x="526.8" y="808.2" width="9.1" height="1"/><rect x="535.9" y="808.4" width="9.1" height="0.8"/><rect x="545" y="808.5" width="9.1" height="0.7"/><rect x="554.1" y="808.6" width="9.1" height="0.6"/><rect x="563.2" y="808.7" width="9.1" height="0.5"/><rect x="572.3" y="808.7" width="9.1" height="0.5"/><rect x="581.4" y="808.7" width="9.1" height="0.5"/><rect x="590.5" y="808.7" width="9.1" height="0.5"/><rect x="599.6" y="808.7" width="9.1" height="0.5"/><rect x="608.7" y="808.7" width="9.1" height="0.5"/><rect x="617.8" y="808.7" width="9.1" height="0.5"/><rect x="626.9" y="808.7" width="9.1" height="0.5"/><rect x="636" y="808.7" width="9.1" height="0.5"/><rect x="645.1" y="808.7" width="9.1" height="0.5"/></g>
<line x1="51.9" y1="784.6" x2="51.9" y2="809.2" stroke="#5f5f5f" stroke-width="1.3"/>
<line x1="47.3" y1="809.2" x2="681.3" y2="809.2" stroke="#404040" stroke-width="1.1"/>
<line x1="47.5" y1="792.9" x2="52" y2="792.9" stroke="#6a6a6a" stroke-width="1.1"/>
<text x="45" y="796.2" font-size="14" fill="#424242" text-anchor="end">100</text>
<line x1="47.5" y1="809.2" x2="52" y2="809.2" stroke="#6a6a6a" stroke-width="1.1"/>
<text x="45" y="812.5" font-size="14" fill="#424242" text-anchor="end">0</text>
<line x1="186.4" y1="809.2" x2="186.4" y2="813.5" stroke="#555" stroke-width="1.3"/>
<text x="186.4" y="826.7" font-size="14" fill="#424242" text-anchor="middle">7.5</text>
<line x1="396.3" y1="809.2" x2="396.3" y2="813.5" stroke="#555" stroke-width="1.3"/>
<text x="396.3" y="826.7" font-size="14" fill="#424242" text-anchor="middle">10.0</text>
<line x1="606.5" y1="809.2" x2="606.5" y2="813.5" stroke="#555" stroke-width="1.3"/>
<text x="606.5" y="826.7" font-size="14" fill="#424242" text-anchor="middle">12.5</text>
<text transform="translate(11.5,797) rotate(-90)" font-size="14" fill="#424242" text-anchor="middle">Texas</text>
<path d="M279.1 809.2V797.2H279.1" fill="none" stroke="#1f77b4" stroke-width="2" stroke-dasharray="5.6 5"/>
<path d="M279.1 809.2V786.2H279.1V788.2" fill="none" stroke="#ef7d2c" stroke-width="2" stroke-dasharray="5.6 5"/>
<path d="M279.1 809.2V786.2" fill="none" stroke="#5f6a85" stroke-width="2" stroke-dasharray="5.6 5"/>
<rect x="285.1" y="768.3" width="30.1" height="15.6" fill="#fff" stroke="#ef7d2c" stroke-width="1.4"/>
<text x="300.15" y="781.1" font-size="14" fill="#424242" text-anchor="middle">−0%</text>
<rect x="285.1" y="785.6" width="30.1" height="15.6" fill="#fff" stroke="#1f77b4" stroke-width="1.4"/>
<text x="300.15" y="798.4" font-size="14" fill="#424242" text-anchor="middle">−0%</text>
<path d="M543.9 72.1H561" stroke="#6a7796" stroke-width="1.9" stroke-dasharray="5.9 4.9" fill="none"/>
<text x="565.0" y="76" font-size="14" fill="#424242">Status Quo</text>
<path d="M543.9 88H561" stroke="#1f77b4" stroke-width="1.9" stroke-dasharray="5.9 4.9" fill="none"/>
<text x="565.0" y="91.9" font-size="14" fill="#424242">Uniform ITC</text>
<path d="M543.9 104.6H561" stroke="#ef7d2c" stroke-width="1.9" stroke-dasharray="5.9 4.9" fill="none"/>
<text x="565.0" y="108.5" font-size="14" fill="#424242">Region-specific ITC</text>
<text x="366.8" y="841.2" font-size="14" fill="#424242" text-anchor="middle">GWh</text>
</svg></body></html>
